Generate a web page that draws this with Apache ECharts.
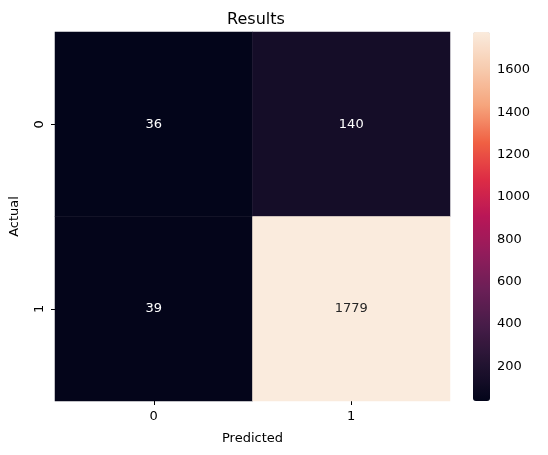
<!DOCTYPE html>
<html><head><meta charset="utf-8">
<script src="https://cdn.jsdelivr.net/npm/echarts@6/dist/echarts.min.js"></script>
<style>html,body{margin:0;padding:0;background:#fff}#c{width:548px;height:455px}</style>
</head><body><div id="c"></div>
<script>
const xCats = ['0','1'];
const yCats = ['0','1'];
const values = [[0,0,36],[1,0,140],[0,1,39],[1,1,1779]];
const cbTicks = [200,400,600,800,1000,1200,1400,1600];
const vmin = 36, vmax = 1779;
const rocket = ['#03051a','#221331','#451c47','#6a1f56','#921c5b','#b91657','#dd2c45','#f06043','#f6a47c','#f7cbae','#faebdd'];
const chart = echarts.init(document.getElementById('c'));
const font = 'DejaVu Sans';
const fs = 13;
const hiddenLine = {show:true,lineStyle:{color:'rgba(0,0,0,0)'}};
chart.setOption({
  animation:false,
  textStyle:{fontFamily:font},
  title:{text:'Results',left:251,top:7,textAlign:'center',textStyle:{fontFamily:font,fontSize:16,fontWeight:'normal',color:'#000'}},
  grid:[{left:54,top:32,width:396,height:369},{left:473,top:32,width:17,height:369}],
  xAxis:[{type:'category',data:xCats,gridIndex:0,name:'Predicted',nameLocation:'middle',nameGap:31,
    nameTextStyle:{fontFamily:font,fontSize:fs,color:'#000'},
    axisLine:hiddenLine,axisTick:{show:true,alignWithLabel:true,length:4,lineStyle:{color:'#000'}},
    axisLabel:{fontFamily:font,fontSize:fs,color:'#000',margin:9},splitLine:{show:false}},
   {type:'value',gridIndex:1,show:false}],
  yAxis:[{type:'category',data:yCats,gridIndex:0,inverse:true,name:'Actual',nameLocation:'middle',nameGap:34,
    nameTextStyle:{fontFamily:font,fontSize:fs,color:'#000'},
    axisLine:hiddenLine,axisTick:{show:true,alignWithLabel:true,length:4,lineStyle:{color:'#000'}},
    axisLabel:{fontFamily:font,fontSize:fs,color:'#000',rotate:90,margin:9},splitLine:{show:false}},
   {type:'value',gridIndex:1,position:'right',min:vmin,max:vmax,
    axisLine:hiddenLine,splitLine:{show:false},
    axisTick:{show:true,length:4,customValues:cbTicks,lineStyle:{color:'#000'}},
    axisLabel:{fontFamily:font,fontSize:fs,color:'#000',margin:7,customValues:cbTicks,formatter:v=>String(v)}}],
  visualMap:{type:'continuous',min:vmin,max:vmax,seriesIndex:0,calculable:false,
    left:473,top:32,itemWidth:17,itemHeight:369,padding:0,
    inRange:{color:rocket},text:null,showLabel:false},
  series:[{type:'heatmap',xAxisIndex:0,yAxisIndex:0,
    data:values.map(v=>({value:v,label:{color:(v[2]-vmin)/(vmax-vmin)>0.6?'#262626':'#fff'}})),
    label:{show:true,fontFamily:font,fontSize:fs,formatter:p=>String(p.value[2])},
    itemStyle:{borderWidth:0},
    emphasis:{disabled:true}},
   {type:'scatter',xAxisIndex:1,yAxisIndex:1,data:[]}]
});
</script></body></html>
